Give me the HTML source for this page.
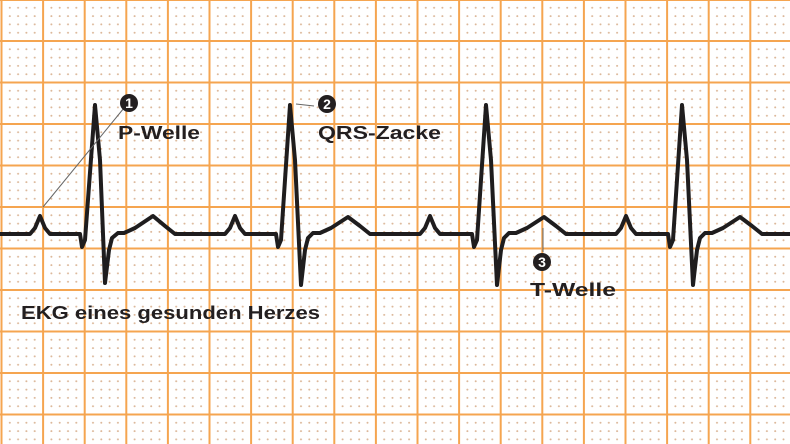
<!DOCTYPE html>
<html><head><meta charset="utf-8"><style>
html,body{margin:0;padding:0;background:#fff}
svg{display:block}
text{font-family:"Liberation Sans",sans-serif;font-weight:bold;fill:#231f20}
</style></head><body>
<svg width="790" height="444" viewBox="0 0 790 444" xmlns="http://www.w3.org/2000/svg">
<defs>
<pattern id="g" x="1.5" y="-0.5" width="41.6" height="41.5" patternUnits="userSpaceOnUse">
<g fill="#dcb89a">
<circle cx="8.3" cy="8.3" r="1"/><circle cx="16.6" cy="8.3" r="1"/><circle cx="24.9" cy="8.3" r="1"/><circle cx="33.2" cy="8.3" r="1"/>
<circle cx="8.3" cy="16.6" r="1"/><circle cx="16.6" cy="16.6" r="1"/><circle cx="24.9" cy="16.6" r="1"/><circle cx="33.2" cy="16.6" r="1"/>
<circle cx="8.3" cy="24.9" r="1"/><circle cx="16.6" cy="24.9" r="1"/><circle cx="24.9" cy="24.9" r="1"/><circle cx="33.2" cy="24.9" r="1"/>
<circle cx="8.3" cy="33.2" r="1"/><circle cx="16.6" cy="33.2" r="1"/><circle cx="24.9" cy="33.2" r="1"/><circle cx="33.2" cy="33.2" r="1"/>
</g>
</pattern>
</defs>
<rect width="790" height="444" fill="#fff"/>
<rect width="790" height="444" fill="url(#g)"/>
<g stroke="#f5a550" stroke-width="2">
<line x1="1.5" y1="0" x2="1.5" y2="444"/><line x1="43.1" y1="0" x2="43.1" y2="444"/><line x1="84.7" y1="0" x2="84.7" y2="444"/><line x1="126.3" y1="0" x2="126.3" y2="444"/><line x1="167.9" y1="0" x2="167.9" y2="444"/><line x1="209.5" y1="0" x2="209.5" y2="444"/><line x1="251.1" y1="0" x2="251.1" y2="444"/><line x1="292.7" y1="0" x2="292.7" y2="444"/><line x1="334.3" y1="0" x2="334.3" y2="444"/><line x1="375.9" y1="0" x2="375.9" y2="444"/><line x1="417.5" y1="0" x2="417.5" y2="444"/><line x1="459.1" y1="0" x2="459.1" y2="444"/><line x1="500.7" y1="0" x2="500.7" y2="444"/><line x1="542.3" y1="0" x2="542.3" y2="444"/><line x1="583.9" y1="0" x2="583.9" y2="444"/><line x1="625.5" y1="0" x2="625.5" y2="444"/><line x1="667.1" y1="0" x2="667.1" y2="444"/><line x1="708.7" y1="0" x2="708.7" y2="444"/><line x1="750.3" y1="0" x2="750.3" y2="444"/>
<line x1="0" y1="0" x2="790" y2="0"/><line x1="0" y1="41" x2="790" y2="41"/><line x1="0" y1="82.5" x2="790" y2="82.5"/><line x1="0" y1="124" x2="790" y2="124"/><line x1="0" y1="165.5" x2="790" y2="165.5"/><line x1="0" y1="207" x2="790" y2="207"/><line x1="0" y1="248.5" x2="790" y2="248.5"/><line x1="0" y1="290" x2="790" y2="290"/><line x1="0" y1="331.5" x2="790" y2="331.5"/><line x1="0" y1="373" x2="790" y2="373"/><line x1="0" y1="414.5" x2="790" y2="414.5"/>
</g>
<path fill="none" stroke="#1f1d1e" stroke-width="4" stroke-linejoin="round" stroke-linecap="round"
d="M0 234 H30 L35 228 L40 216 L45 228 L50 234 H80 L82 247 L85 240 L95 105 L100 160 L105 283 L109 250 L112 238 L118 233 L124 233 L135 228 L153 216 L165 226 L175 234
H225 L230 228 L235 216 L240 228 L245 234 H276 L278 247 L281 240 L290 105 L295 160 L301 285 L305 250 L308 238 L313 233 L320 233 L331 228 L348 217 L360 226 L370 234
H420 L425 228 L430 216 L435 228 L440 234 H472 L474 247 L477 240 L486 105 L491 160 L497 285 L501 250 L504 238 L509 233 L516 233 L527 228 L544 217 L556 226 L566 234
H616 L621 228 L626 216 L631 228 L636 234 H668 L670 247 L673 240 L682 105 L687 160 L693 285 L697 250 L700 238 L705 233 L712 233 L723 228 L740 217 L752 226 L762 234 H790"/>
<g stroke="#666" stroke-width="1">
<line x1="43" y1="207" x2="124" y2="108"/>
<line x1="296" y1="104" x2="314" y2="106"/>
<line x1="543" y1="228" x2="543" y2="252"/>
</g>
<g font-size="14" text-anchor="middle">
<circle cx="129" cy="103" r="9" fill="#231f20"/><text x="129" y="108" style="fill:#fff">1</text>
<circle cx="327" cy="104" r="9" fill="#231f20"/><text x="327" y="109" style="fill:#fff">2</text>
<circle cx="542" cy="262" r="9" fill="#231f20"/><text x="542" y="267" style="fill:#fff">3</text>
</g>
<g font-size="18">
<text x="118" y="139" textLength="82" lengthAdjust="spacingAndGlyphs">P-Welle</text>
<text x="318" y="139" textLength="123" lengthAdjust="spacingAndGlyphs">QRS-Zacke</text>
<text x="530" y="296" textLength="86" lengthAdjust="spacingAndGlyphs">T-Welle</text>
<text x="21" y="319" textLength="299" lengthAdjust="spacingAndGlyphs">EKG eines gesunden Herzes</text>
</g>
</svg>
</body></html>
